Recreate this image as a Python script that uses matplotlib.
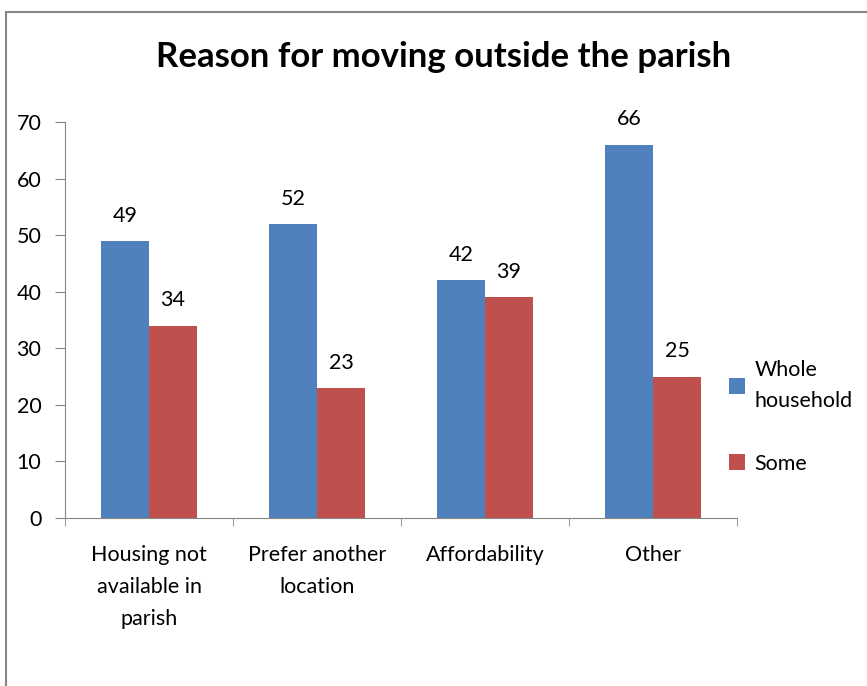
import numpy as np
import matplotlib.pyplot as plt
from matplotlib.patches import Rectangle

categories = ["Housing not\navailable in\nparish", "Prefer another\nlocation", "Affordability", "Other"]
whole = [49, 52, 42, 66]
some = [34, 23, 39, 25]

blue = "#4F81BD"
red = "#C0504D"
grey = "#868686"

plt.rcParams['font.family'] = ['Lato', 'DejaVu Sans']

fig = plt.figure(figsize=(8.67, 6.86), dpi=100)
ax = fig.add_axes([0.075, 0.2449, 0.775, 0.5773])

# outer chart border (runs off the right and bottom edges)
fig.patches.append(Rectangle((6/867, -0.1), 1.2, 1 - 12/686 + 0.1, transform=fig.transFigure,
                             fill=False, edgecolor=grey, linewidth=1.5))

x = np.arange(len(categories))
w = 48/168
b1 = ax.bar(x - w/2, whole, w, color=blue, label="Whole\nhousehold")
b2 = ax.bar(x + w/2, some, w, color=red, label="Some")
ax.bar_label(b1, padding=11, fontsize=15.5)
ax.bar_label(b2, padding=11, fontsize=15.5)

ax.set_xlim(-0.5, len(categories) - 0.5)
ax.set_ylim(0, 70)
ax.set_yticks(range(0, 71, 10))
ax.set_xticks(x)
ax.set_xticklabels(categories, fontsize=15.5, linespacing=1.75)
ax.set_xticks(np.arange(-0.5, len(categories)), minor=True)
ax.tick_params(axis='x', which='major', length=0, pad=19.5)
ax.tick_params(axis='x', which='minor', length=6, color=grey)
ax.tick_params(axis='y', length=7, color=grey, labelsize=15.5, pad=10)

for s in ['top', 'right']:
    ax.spines[s].set_visible(False)
for s in ['left', 'bottom']:
    ax.spines[s].set_color(grey)

fig.text(0.512, 0.917, "Reason for moving outside the parish", ha='center', va='center',
         fontsize=25, fontweight='bold')

leg = fig.legend(loc='upper left', bbox_to_anchor=(0.818, 0.503), frameon=False, fontsize=15.5,
                 handlelength=0.75, handleheight=0.75, handletextpad=0.45, labelspacing=2.0)
for t in leg.get_texts():
    t.set_linespacing(1.65)

fig.savefig("out.png", dpi=100)
